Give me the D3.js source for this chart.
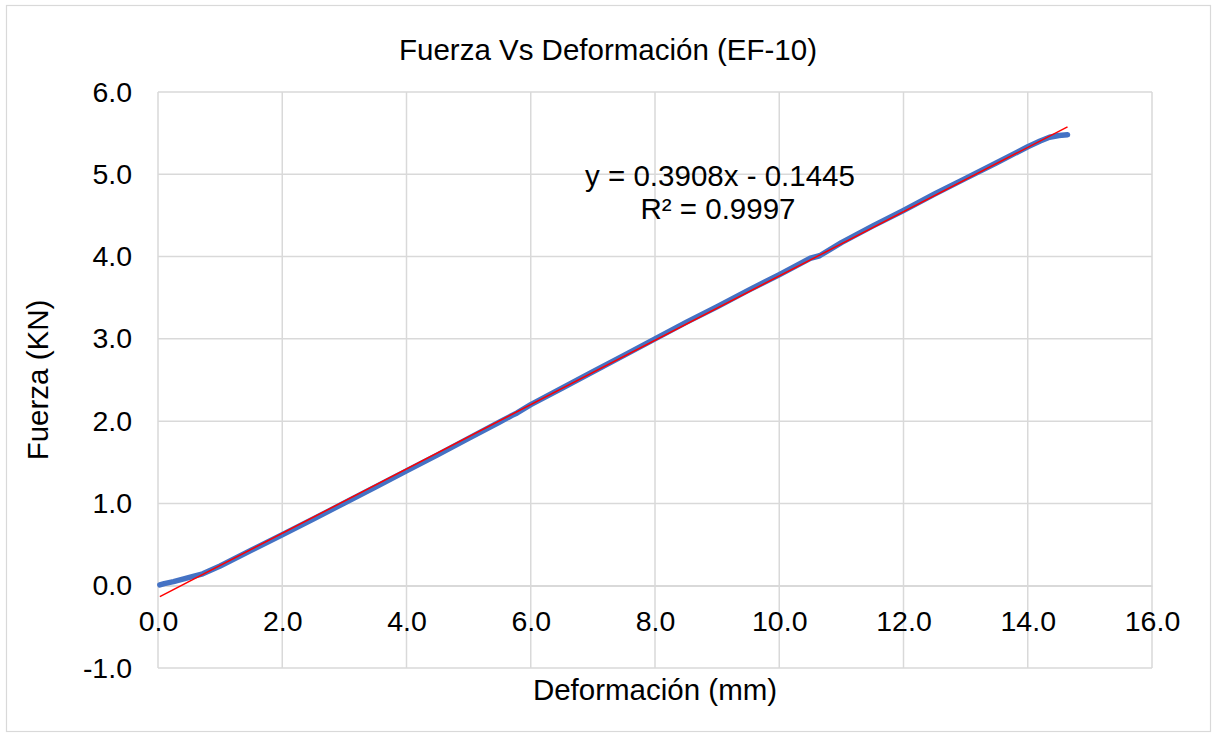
<!DOCTYPE html>
<html>
<head>
<meta charset="utf-8">
<script src="https://cdn.jsdelivr.net/npm/d3@7"></script>
<style>
  html, body { margin: 0; padding: 0; background: #fff; }
  svg { display: block; font-family: "Liberation Sans", Arial, sans-serif; }
</style>
</head>
<body>
<svg id="chart" width="1216" height="736"></svg>
<script>
// Load–deformation record for specimen EF-10
const deformacion = [0.03, 0.10, 0.25, 0.40, 0.55, 0.72, 1.0, 1.5, 2.0, 2.5, 3.0, 3.5, 4.0, 4.5, 5.0, 5.5, 5.7, 5.78, 6.0, 6.5, 7.0, 7.5, 8.0, 8.5, 9.0, 9.5, 10.0, 10.5, 10.65, 11.0, 11.5, 12.0, 12.5, 13.0, 13.5, 14.0, 14.2, 14.35, 14.5, 14.64];
const fuerza      = [0.01, 0.025, 0.05, 0.08, 0.11, 0.145, 0.24, 0.43, 0.62, 0.81, 1.005, 1.20, 1.395, 1.59, 1.79, 1.99, 2.07, 2.10, 2.20, 2.40, 2.60, 2.80, 3.00, 3.20, 3.39, 3.59, 3.78, 3.98, 4.01, 4.17, 4.37, 4.56, 4.76, 4.95, 5.14, 5.335, 5.405, 5.45, 5.472, 5.48];

// Linear trendline coefficients
const pendiente = 0.3908;
const intercepto = -0.1445;
const r2 = 0.9997;

const xTicks = [0, 2, 4, 6, 8, 10, 12, 14, 16];
const yTicks = [-1, 0, 1, 2, 3, 4, 5, 6];

const titulo = "Fuerza Vs Deformación (EF-10)";
const xTitulo = "Deformación (mm)";
const yTitulo = "Fuerza (KN)";

const svg = d3.select("#chart");
const plot = { left: 158, right: 1152, top: 92, bottom: 668 };

const x = d3.scaleLinear().domain([0, 16]).range([plot.left, plot.right]);
const y = d3.scaleLinear().domain([-1, 6]).range([plot.bottom, plot.top]);

const grid = "#d9d9d9";
const fmt = d => d.toFixed(1);   // plain hyphen for negatives

// Outer chart frame
svg.append("rect")
  .attr("x", 6.5).attr("y", 5.5)
  .attr("width", 1204).attr("height", 726)
  .attr("fill", "#fff").attr("stroke", grid).attr("stroke-width", 1.2);

// Gridlines
svg.append("g")
  .selectAll("line").data(xTicks).join("line")
  .attr("x1", d => x(d)).attr("x2", d => x(d))
  .attr("y1", plot.top).attr("y2", plot.bottom)
  .attr("stroke", grid).attr("stroke-width", 1.5);
svg.append("g")
  .selectAll("line").data(yTicks).join("line")
  .attr("x1", plot.left).attr("x2", plot.right)
  .attr("y1", d => y(d)).attr("y2", d => y(d))
  .attr("stroke", grid).attr("stroke-width", 1.5);

// X axis crossing at zero
const xAxis = d3.axisBottom(x).tickValues(xTicks).tickSize(0).tickPadding(0).tickFormat(fmt);
const gx = svg.append("g").attr("transform", `translate(0,${y(0)})`).call(xAxis);
gx.attr("font-family", null);
gx.select(".domain").attr("stroke", grid).attr("stroke-width", 1.5);
gx.selectAll("text").attr("font-size", 28.5).attr("fill", "#000")
  .attr("dy", null).attr("y", 45);

// Y axis labels
const yAxis = d3.axisLeft(y).tickValues(yTicks).tickSize(0).tickPadding(26).tickFormat(fmt);
const gy = svg.append("g").attr("transform", `translate(${plot.left},0)`).call(yAxis);
gy.attr("font-family", null);
gy.select(".domain").remove();
gy.selectAll("text").attr("font-size", 28.5).attr("fill", "#000");

// Data series
const datos = deformacion.map((d, i) => [d, fuerza[i]]);
const linea = d3.line().x(d => x(d[0])).y(d => y(d[1]));
svg.append("path").datum(datos)
  .attr("d", linea)
  .attr("fill", "none").attr("stroke", "#4472C4")
  .attr("stroke-width", 5.5).attr("stroke-linejoin", "round").attr("stroke-linecap", "round");

// Trendline over the data range
const xMin = d3.min(deformacion), xMax = d3.max(deformacion);
const tendencia = [xMin, xMax].map(v => [v, pendiente * v + intercepto]);
svg.append("path").datum(tendencia)
  .attr("d", linea)
  .attr("fill", "none").attr("stroke", "#ff0000").attr("stroke-width", 1.5);

// Trendline equation
const eq = svg.append("text").attr("font-size", 29.5).attr("fill", "#000").attr("text-anchor", "middle");
eq.append("tspan").attr("x", 720).attr("y", 186)
  .text(`y = ${pendiente}x - ${Math.abs(intercepto)}`);
eq.append("tspan").attr("x", 718).attr("y", 219)
  .text(`R² = ${r2}`);

// Titles
svg.append("text").attr("x", 608).attr("y", 60).attr("text-anchor", "middle")
  .attr("font-size", 29.5).attr("fill", "#000").text(titulo);
svg.append("text").attr("x", (plot.left + plot.right) / 2).attr("y", 700)
  .attr("text-anchor", "middle").attr("font-size", 29.5).attr("fill", "#000").text(xTitulo);
svg.append("text")
  .attr("transform", `translate(48,${(plot.top + plot.bottom) / 2}) rotate(-90)`)
  .attr("text-anchor", "middle").attr("font-size", 29.5).attr("fill", "#000").text(yTitulo);
</script>
</body>
</html>
